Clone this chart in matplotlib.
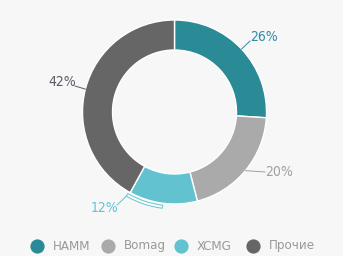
import numpy as np
import matplotlib.pyplot as plt
from matplotlib.patches import Wedge

names = ['HAMM', 'Bomag', 'XCMG', 'Прочие']
shares = [26, 20, 12, 42]
colors = ['#2a8a96', '#aaaaaa', '#62c2d0', '#666666']
label_colors = ['#2f8aa3', '#a0a0a0', '#5cc4d6', '#5c5c68']

W, H = 343, 256
font = dict(family='DejaVu Sans', fontstretch='condensed')

fig = plt.figure(figsize=(W / 100, H / 100), dpi=100)
fig.patch.set_facecolor('#f7f7f7')
ax = fig.add_axes([0, 0, 1, 1])
ax.set_facecolor('#f7f7f7')

cx, cy = 174.5, H - 112
R, ring = 92, 30

wedges, _ = ax.pie(shares, colors=colors, startangle=90, counterclock=False,
                   center=(cx, cy), radius=R, frame=True,
                   wedgeprops=dict(width=ring, edgecolor='white', linewidth=1))
ax.set_xlim(0, W)
ax.set_ylim(0, H)
ax.axis('off')

# highlight bracket under the XCMG slice
w = wedges[2]
ax.add_patch(Wedge((cx, cy), R + 5, w.theta1 - 1, (w.theta1 + w.theta2) / 2,
                   width=3, facecolor='white', edgecolor='#62c2d0', lw=0.7))

# label anchors (pixel positions of text) and connector start angles
lab_xy = [(249, 37), (264, 172), (118, 208), (76, 82)]
lab_ha = ['left', 'left', 'right', 'right']
for i, w in enumerate(wedges):
    mid = np.deg2rad((w.theta1 + w.theta2) / 2)
    if i == 2:
        mid = np.deg2rad(w.theta1 - 1)
        r0 = R + 5
    else:
        r0 = R
    x0, y0 = cx + r0 * np.cos(mid), cy + r0 * np.sin(mid)
    lx, ly = lab_xy[i][0], H - lab_xy[i][1]
    ex = lx + (1 if lab_ha[i] == 'left' else -1)
    ey = ly - 4 if i in (0, 3) else ly + 3 if i == 2 else ly
    ax.plot([x0, ex], [y0, ey], color=label_colors[i], lw=0.7)
    ax.text(lx + (1 if lab_ha[i] == 'left' else 0), ly, f'{shares[i]}%',
            ha=lab_ha[i], va='center', fontsize=10, color=label_colors[i],
            **font)

# legend
leg_x = [37, 108, 181, 253]
ly = H - 246
for i in range(4):
    ax.scatter([leg_x[i]], [ly], s=105, color=colors[i], linewidths=0)
    ax.text(leg_x[i] + 16, ly, names[i], ha='left', va='center',
            fontsize=9.5, color='#999999', **font)

fig.savefig('out.png', dpi=100, facecolor=fig.get_facecolor())
